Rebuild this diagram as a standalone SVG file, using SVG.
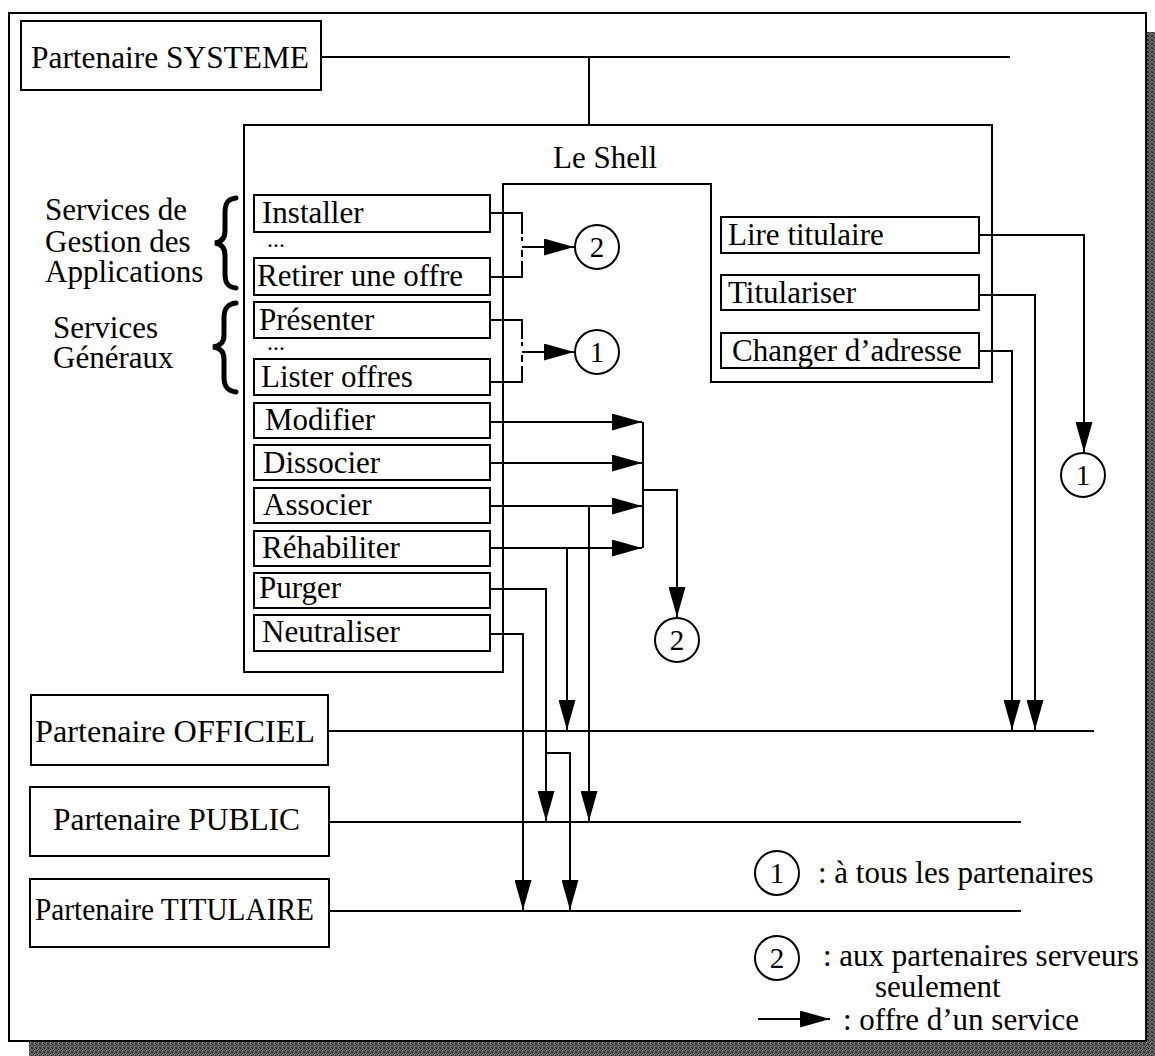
<svg xmlns="http://www.w3.org/2000/svg" width="1155" height="1056" viewBox="0 0 1155 1056">
  <defs>
    <style>
      text { font-family: "Liberation Serif", "Times New Roman", serif; fill: #000; }
      .lbl { font-size: 31px; }
      .dots { font-size: 24px; }
      .num { font-size: 29px; text-anchor: middle; }
      .box { fill: #fff; stroke: #000; stroke-width: 2; }
      .ln { fill: none; stroke: #000; stroke-width: 2; }
      .arr { fill: none; stroke: #000; stroke-width: 2; marker-end: url(#head); }
      .circ { fill: #fff; stroke: #000; stroke-width: 2; }
      .brace { fill: none; stroke: #000; stroke-width: 5; stroke-linecap: round; }
    </style>
    <marker id="head" markerUnits="userSpaceOnUse" markerWidth="30" markerHeight="17" refX="30" refY="8.5" orient="auto">
      <path d="M0,0 L30,8.5 L0,17 Z" fill="#000"/>
    </marker>
    <pattern id="dither" width="4" height="4" patternUnits="userSpaceOnUse">
      <rect width="4" height="4" fill="#6a6a6a"/>
      <rect x="0" y="0" width="1" height="1" fill="#111"/>
      <rect x="2" y="1" width="1" height="1" fill="#222"/>
      <rect x="1" y="2" width="1" height="1" fill="#1a1a1a"/>
      <rect x="3" y="3" width="1" height="1" fill="#222"/>
      <rect x="3" y="0" width="1" height="1" fill="#444"/>
      <rect x="0" y="3" width="1" height="1" fill="#444"/>
      <rect x="2" y="2" width="1" height="1" fill="#999"/>
    </pattern>
  </defs>

  <rect width="1155" height="1056" fill="#fff"/>

  <!-- drop shadow and page frame -->
  <g id="frame">
    <rect x="1146" y="32" width="9" height="1024" fill="url(#dither)"/>
    <rect x="29" y="1041" width="1126" height="15" fill="url(#dither)"/>
    <rect x="9" y="13" width="1137" height="1028" fill="none" stroke="#000" stroke-width="2"/>
  </g>

  <!-- shell outline with its notch for the holder services -->
  <g id="shell">
    <path class="ln" d="M244,125 H992 V382 H711 V184 H503 V672 H244 Z"/>
    <text class="lbl" x="553" y="168">Le Shell</text>
  </g>

  <!-- side captions with braces -->
  <g id="group-gestion">
    <text class="lbl" x="45" y="220">Services de</text>
    <text class="lbl" x="45" y="252">Gestion des</text>
    <text class="lbl" x="45" y="282">Applications</text>
    <path class="brace" d="M236,198 C227,199 225,204 225,213 L225,231 C225,239 221,242 215,243 C221,244 225,247 225,255 L225,273 C225,282 227,287 236,288"/>
  </g>
  <g id="group-generaux">
    <text class="lbl" x="53" y="338">Services</text>
    <text class="lbl" x="53" y="368">Généraux</text>
    <path class="brace" d="M236,303 C227,304 224,309 224,318 L224,335 C224,343 220,346 213,347 C220,348 224,351 224,359 L224,377 C224,386 227,391 236,392"/>
  </g>

  <!-- partner boxes -->
  <g id="partenaire-systeme">
    <rect class="box" x="21" y="21" width="300" height="69"/>
    <text class="lbl" x="31" y="68" textLength="278" lengthAdjust="spacingAndGlyphs">Partenaire SYSTEME</text>
  </g>
  <g id="partenaire-officiel">
    <rect class="box" x="31" y="695" width="297" height="70"/>
    <text class="lbl" x="35" y="742" textLength="280" lengthAdjust="spacingAndGlyphs">Partenaire OFFICIEL</text>
  </g>
  <g id="partenaire-public">
    <rect class="box" x="30" y="787" width="299" height="69"/>
    <text class="lbl" x="53" y="830" textLength="247" lengthAdjust="spacingAndGlyphs">Partenaire PUBLIC</text>
  </g>
  <g id="partenaire-titulaire">
    <rect class="box" x="30" y="879" width="299" height="68"/>
    <text class="lbl" x="35" y="920" textLength="279" lengthAdjust="spacingAndGlyphs">Partenaire TITULAIRE</text>
  </g>

  <!-- service boxes, left column -->
  <g id="installer">
    <rect class="box" x="254" y="195" width="236" height="37"/>
    <text class="lbl" x="262" y="223">Installer</text>
  </g>
  <text id="ellipsis-gestion" class="dots" x="267" y="247">...</text>
  <g id="retirer">
    <rect class="box" x="254" y="258" width="236" height="37"/>
    <text class="lbl" x="257" y="286">Retirer une offre</text>
  </g>
  <g id="presenter">
    <rect class="box" x="254" y="302" width="236" height="36"/>
    <text class="lbl" x="259" y="330">Présenter</text>
  </g>
  <text id="ellipsis-generaux" class="dots" x="267" y="350">...</text>
  <g id="lister">
    <rect class="box" x="254" y="359" width="236" height="36"/>
    <text class="lbl" x="261" y="387">Lister offres</text>
  </g>
  <g id="modifier">
    <rect class="box" x="254" y="403" width="236" height="35"/>
    <text class="lbl" x="265" y="430">Modifier</text>
  </g>
  <g id="dissocier">
    <rect class="box" x="254" y="445" width="236" height="35"/>
    <text class="lbl" x="263" y="473">Dissocier</text>
  </g>
  <g id="associer">
    <rect class="box" x="254" y="488" width="236" height="35"/>
    <text class="lbl" x="263" y="515">Associer</text>
  </g>
  <g id="rehabiliter">
    <rect class="box" x="254" y="531" width="236" height="35"/>
    <text class="lbl" x="262" y="558">Réhabiliter</text>
  </g>
  <g id="purger">
    <rect class="box" x="254" y="573" width="236" height="35"/>
    <text class="lbl" x="259" y="598">Purger</text>
  </g>
  <g id="neutraliser">
    <rect class="box" x="254" y="615" width="236" height="36"/>
    <text class="lbl" x="262" y="642">Neutraliser</text>
  </g>

  <!-- holder services, right column -->
  <g id="lire-titulaire">
    <rect class="box" x="721" y="217" width="258" height="36"/>
    <text class="lbl" x="728" y="245">Lire titulaire</text>
  </g>
  <g id="titulariser">
    <rect class="box" x="721" y="275" width="258" height="35"/>
    <text class="lbl" x="728" y="303">Titulariser</text>
  </g>
  <g id="changer-adresse">
    <rect class="box" x="721" y="333" width="258" height="35"/>
    <text class="lbl" x="732" y="361">Changer d’adresse</text>
  </g>

  <!-- connectors -->
  <g id="connectors">
    <!-- partner buses -->
    <path class="ln" d="M321,57 H1010"/>
    <path class="ln" d="M589,57 V125"/>
    <path class="ln" d="M328,731 H1094"/>
    <path class="ln" d="M329,822 H1021"/>
    <path class="ln" d="M329,911 H1021"/>

    <!-- application management services, broken bracket -->
    <path class="ln" d="M490,213 H522 V234 M522,237 V241 M522,250 V257 M522,261 V277 H490"/>
    <path class="arr" d="M522,247 H574"/>
    <!-- general services, broken bracket -->
    <path class="ln" d="M490,320 H522 V339 M522,342 V346 M522,355 V362 M522,366 V382 H490"/>
    <path class="arr" d="M522,352 H574"/>

    <!-- services gathered towards server partners -->
    <path class="arr" d="M490,422 H642"/>
    <path class="arr" d="M490,463 H642"/>
    <path class="arr" d="M490,506 H642"/>
    <path class="arr" d="M490,548 H642"/>
    <path class="ln" d="M643,422 V548"/>
    <path class="arr" d="M643,490 H677 V617"/>

    <!-- direct offers to partners -->
    <path class="arr" d="M589,506 V821"/>
    <path class="arr" d="M567,548 V730"/>
    <path class="arr" d="M490,589 H546 V821"/>
    <path class="arr" d="M546,753 H570 V910"/>
    <path class="arr" d="M490,634 H523 V910"/>

    <!-- holder services -->
    <path class="arr" d="M979,235 H1084 V452"/>
    <path class="arr" d="M979,295 H1035 V730"/>
    <path class="arr" d="M979,351 H1012 V730"/>
  </g>

  <!-- numbered targets -->
  <g id="cible-2-gestion">
    <circle class="circ" cx="597" cy="247" r="22"/>
    <text class="num" x="597" y="257">2</text>
  </g>
  <g id="cible-1-generaux">
    <circle class="circ" cx="597" cy="352" r="22"/>
    <text class="num" x="597" y="362">1</text>
  </g>
  <g id="cible-2-serveurs">
    <circle class="circ" cx="677" cy="640" r="22"/>
    <text class="num" x="677" y="650">2</text>
  </g>
  <g id="cible-1-titulaire">
    <circle class="circ" cx="1083" cy="475" r="22"/>
    <text class="num" x="1083" y="485">1</text>
  </g>

  <!-- legend -->
  <g id="legende">
    <circle class="circ" cx="777" cy="873" r="22"/>
    <text class="num" x="777" y="883">1</text>
    <text class="lbl" x="818" y="883">: à tous les partenaires</text>
    <circle class="circ" cx="777" cy="958" r="22"/>
    <text class="num" x="777" y="968">2</text>
    <text class="lbl" x="823" y="966">: aux partenaires serveurs</text>
    <text class="lbl" x="875" y="997">seulement</text>
    <path class="arr" d="M758,1019 H830"/>
    <text class="lbl" x="843" y="1030">: offre d’un service</text>
  </g>
</svg>
